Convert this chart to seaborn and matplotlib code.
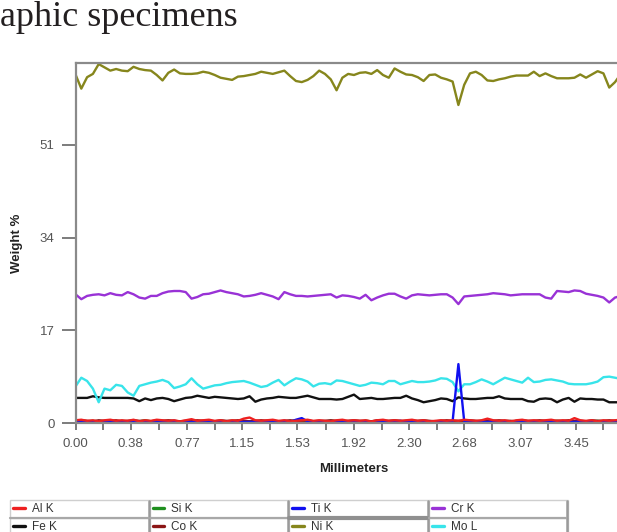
import numpy as np
import pandas as pd
import seaborn as sns
import matplotlib
matplotlib.use("Agg")
import matplotlib.pyplot as plt
from matplotlib.lines import Line2D
from matplotlib.patches import Rectangle

# ---------------- data ----------------
step_mm = 0.04
n_pts = 96
distance_mm = [round(i * step_mm, 2) for i in range(n_pts)]

ni_k = [63.9, 61.3, 63.4, 64.0, 65.8, 65.2, 64.6, 64.9, 64.6, 64.5,
        65.3, 64.9, 64.7, 64.6, 63.8, 62.8, 64.2, 64.8, 64.1, 64.0,
        64.0, 64.1, 64.4, 64.2, 63.8, 63.3, 63.1, 62.9, 63.5, 63.6,
        63.8, 64.0, 64.4, 64.2, 64.0, 64.3, 64.6, 63.6, 62.7, 62.5,
        62.9, 63.6, 64.6, 64.0, 63.0, 61.0, 63.3, 64.0, 63.8, 64.2,
        64.3, 64.0, 64.7, 63.8, 63.3, 65.0, 64.4, 63.9, 63.8, 63.4,
        62.7, 63.8, 63.9, 63.3, 63.0, 62.6, 58.3, 62.0, 64.1, 64.4,
        63.8, 62.8, 62.7, 63.0, 63.2, 63.5, 63.7, 63.7, 63.7, 64.4,
        63.6, 64.1, 63.6, 63.2, 63.2, 63.2, 63.3, 63.9, 63.3, 63.9,
        64.5, 64.1, 61.5, 62.5, 64.0, 64.0]

cr_k = [23.6, 22.7, 23.3, 23.5, 23.6, 23.4, 23.8, 23.5, 23.4, 24.0,
        23.6, 23.0, 22.8, 23.3, 23.3, 23.8, 24.1, 24.2, 24.2, 24.0,
        22.8, 23.1, 23.6, 23.7, 24.0, 24.3, 24.0, 23.8, 23.6, 23.2,
        23.3, 23.5, 23.8, 23.5, 23.2, 22.7, 24.0, 23.6, 23.3, 23.3,
        23.2, 23.3, 23.4, 23.5, 23.6, 23.0, 23.4, 23.3, 23.1, 22.8,
        23.5, 22.5, 23.0, 23.4, 23.7, 23.7, 23.2, 22.8, 23.4, 23.6,
        23.5, 23.4, 23.5, 23.6, 23.6, 23.0, 21.8, 23.2, 23.3, 23.4,
        23.5, 23.6, 23.8, 23.7, 23.6, 23.4, 23.5, 23.6, 23.6, 23.6,
        23.6, 23.0, 22.8, 24.2, 24.1, 24.0, 24.3, 24.2, 23.7, 23.5,
        23.3, 23.0, 22.1, 23.0, 23.3, 23.3]

mo_l = [6.7, 8.3, 7.7, 6.3, 3.8, 6.3, 6.0, 7.0, 6.8, 5.6,
        5.0, 6.8, 7.1, 7.4, 7.6, 7.9, 7.5, 6.4, 6.7, 7.1,
        8.2, 7.1, 6.3, 6.6, 6.9, 7.0, 7.3, 7.5, 7.6, 7.7,
        7.4, 7.0, 6.6, 6.8, 7.4, 7.9, 6.9, 7.6, 8.2, 8.0,
        7.6, 6.7, 7.2, 7.3, 7.1, 7.8, 7.7, 7.4, 7.1, 6.8,
        7.0, 7.4, 7.3, 7.1, 7.7, 7.7, 7.1, 7.4, 7.7, 7.5,
        7.5, 7.6, 7.8, 8.2, 8.1, 7.5, 5.8, 7.1, 7.1, 7.5,
        8.0, 7.6, 7.1, 7.7, 8.3, 8.0, 7.7, 7.4, 8.3, 7.5,
        7.6, 7.9, 8.0, 7.8, 7.6, 7.2, 7.1, 7.1, 7.1, 7.3,
        7.6, 8.4, 8.5, 8.3, 8.1, 8.0]

fe_k = [4.6, 4.6, 4.6, 4.9, 4.7, 4.6, 4.6, 4.6, 4.6, 4.6,
        4.5, 4.0, 4.5, 4.2, 4.5, 4.6, 4.4, 4.0, 4.3, 4.6,
        4.7, 5.0, 4.8, 4.6, 4.8, 4.7, 4.6, 4.5, 4.4, 4.5,
        4.9, 3.9, 4.3, 4.5, 4.6, 4.8, 4.7, 4.6, 4.6, 4.8,
        5.0, 4.7, 4.4, 4.4, 4.4, 4.3, 4.4, 4.8, 5.2, 4.4,
        4.5, 4.6, 4.4, 4.4, 4.5, 4.6, 4.6, 5.0, 4.5, 4.2,
        3.8, 4.0, 4.2, 4.5, 4.4, 4.0, 4.7, 4.5, 4.4, 4.4,
        4.5, 4.6, 4.6, 4.9, 4.5, 4.4, 4.4, 4.4, 4.0, 3.9,
        4.4, 4.5, 4.4, 3.8, 4.3, 4.6, 3.9, 4.5, 4.4, 4.4,
        4.3, 4.3, 3.8, 3.8, 3.8, 3.8]

ti_k = [0.2, 0.2, 0.3, 0.2, 0.2, 0.3, 0.2, 0.2, 0.2, 0.3,
        0.2, 0.2, 0.2, 0.3, 0.2, 0.2, 0.2, 0.4, 0.2, 0.2,
        0.2, 0.2, 0.3, 0.2, 0.2, 0.2, 0.2, 0.3, 0.2, 0.2,
        0.2, 0.2, 0.3, 0.2, 0.2, 0.2, 0.4, 0.2, 0.6, 0.9,
        0.3, 0.2, 0.2, 0.2, 0.3, 0.2, 0.2, 0.2, 0.2, 0.3,
        0.2, 0.2, 0.2, 0.3, 0.2, 0.2, 0.4, 0.2, 0.2, 0.2,
        0.2, 0.3, 0.2, 0.2, 0.2, 0.3, 10.8, 0.3, 0.2, 0.2,
        0.2, 0.2, 0.3, 0.2, 0.2, 0.2, 0.3, 0.2, 0.2, 0.2,
        0.2, 0.2, 0.3, 0.2, 0.2, 0.2, 0.2, 0.3, 0.2, 0.2,
        0.2, 0.2, 0.2, 0.3, 0.2, 0.2]

al_k = [0.5, 0.6, 0.4, 0.5, 0.3, 0.5, 0.6, 0.4, 0.5, 0.4,
        0.6, 0.3, 0.5, 0.4, 0.6, 0.5, 0.4, 0.5, 0.3, 0.5,
        0.7, 0.4, 0.5, 0.6, 0.4, 0.5, 0.3, 0.5, 0.4, 0.8,
        1.0, 0.5, 0.4, 0.5, 0.6, 0.4, 0.5, 0.3, 0.4, 0.5,
        0.6, 0.4, 0.5, 0.4, 0.3, 0.5, 0.6, 0.4, 0.5, 0.4,
        0.5, 0.3, 0.5, 0.6, 0.4, 0.5, 0.4, 0.5, 0.6, 0.4,
        0.5, 0.3, 0.4, 0.5, 0.4, 0.5, 0.4, 0.6, 0.5, 0.4,
        0.5, 0.8, 0.5, 0.4, 0.5, 0.3, 0.5, 0.6, 0.4, 0.5,
        0.4, 0.5, 0.6, 0.4, 0.5, 0.4, 0.9, 0.5, 0.4, 0.5,
        0.3, 0.5, 0.4, 0.5, 0.6, 0.4]

si_k = [0.3, 0.2, 0.3, 0.4, 0.2, 0.3, 0.3, 0.2, 0.4, 0.3,
        0.2, 0.3, 0.5, 0.3, 0.2, 0.3, 0.4, 0.3, 0.2, 0.3,
        0.3, 0.2, 0.4, 0.3, 0.3, 0.2, 0.3, 0.4, 0.3, 0.2,
        0.3, 0.3, 0.2, 0.4, 0.3, 0.2, 0.3, 0.3, 0.4, 0.2,
        0.3, 0.3, 0.2, 0.3, 0.4, 0.3, 0.2, 0.3, 0.3, 0.2,
        0.4, 0.3, 0.2, 0.3, 0.3, 0.2, 0.3, 0.4, 0.3, 0.2,
        0.3, 0.3, 0.2, 0.4, 0.3, 0.2, 0.3, 0.3, 0.2, 0.3,
        0.4, 0.3, 0.2, 0.3, 0.3, 0.2, 0.4, 0.3, 0.2, 0.3,
        0.3, 0.2, 0.3, 0.4, 0.3, 0.2, 0.3, 0.3, 0.2, 0.3,
        0.4, 0.3, 0.2, 0.3, 0.3, 0.2]

co_k = [0.4, 0.5, 0.4, 0.3, 0.5, 0.4, 0.4, 0.5, 0.3, 0.4,
        0.5, 0.4, 0.4, 0.3, 0.5, 0.4, 0.5, 0.4, 0.3, 0.4,
        0.4, 0.5, 0.4, 0.4, 0.3, 0.5, 0.4, 0.4, 0.5, 0.4,
        0.3, 0.4, 0.5, 0.4, 0.4, 0.3, 0.4, 0.5, 0.4, 0.4,
        0.5, 0.3, 0.4, 0.4, 0.5, 0.4, 0.3, 0.4, 0.5, 0.4,
        0.4, 0.3, 0.5, 0.4, 0.4, 0.5, 0.4, 0.3, 0.4, 0.4,
        0.5, 0.4, 0.3, 0.4, 0.5, 0.4, 0.4, 0.4, 0.5, 0.4,
        0.3, 0.4, 0.4, 0.5, 0.4, 0.4, 0.3, 0.5, 0.4, 0.4,
        0.5, 0.4, 0.3, 0.4, 0.4, 0.5, 0.4, 0.4, 0.3, 0.5,
        0.4, 0.4, 0.5, 0.4, 0.4, 0.4]

series_names = ["Al K", "Si K", "Ti K", "Cr K", "Fe K", "Co K", "Ni K", "Mo L"]
series_values = [al_k, si_k, ti_k, cr_k, fe_k, co_k, ni_k, mo_l]
series_colors = ["#ee2020", "#1f8f1f", "#1010f0", "#9932d6",
                 "#111111", "#8b1515", "#86861c", "#38e4ea"]
draw_order = ["Si K", "Co K", "Fe K", "Mo L", "Cr K", "Ni K", "Ti K", "Al K"]

y_ticks = [0, 17, 34, 51]
x_tick_labels = ["0.00", "0.38", "0.77", "1.15", "1.53", "1.92",
                 "2.30", "2.68", "3.07", "3.45"]

title_text = "aphic specimens"
x_label = "Millimeters"
y_label = "Weight %"

# ---------------- figure ----------------
sns.set_style("white")
plt.rcParams["font.family"] = ["Liberation Sans", "DejaVu Sans"]

W, H = 617, 532
fig = plt.figure(figsize=(W / 100, H / 100), dpi=100)

ax_left, ax_right, ax_top, ax_bottom = 75.5, 631.0, 63.0, 423.0
ax = fig.add_axes([ax_left / W, 1 - ax_bottom / H,
                   (ax_right - ax_left) / W, (ax_bottom - ax_top) / H])

frames = []
for name, vals in zip(series_names, series_values):
    frames.append(pd.DataFrame({"mm": distance_mm, "wt": vals, "element": name}))
df = pd.concat(frames, ignore_index=True)
color_map = dict(zip(series_names, series_colors))

for name in draw_order:
    sub = df[df["element"] == name]
    sns.lineplot(data=sub, x="mm", y="wt", color=color_map[name],
                 linewidth=1.7, ax=ax, legend=False, estimator=None, sort=False)

ax.set_xlim(0, 3.83)
ax.set_ylim(0, 66)

spine_col = "#8a8a8a"
for side in ["left", "top", "bottom"]:
    ax.spines[side].set_visible(True)
    ax.spines[side].set_color(spine_col)
    ax.spines[side].set_linewidth(1.6)
ax.spines["right"].set_visible(False)

major_x = [float(t) for t in x_tick_labels]
ax.set_xticks(major_x)
ax.set_xticklabels(x_tick_labels)
minor_x = [(a + b) / 2 for a, b in zip(major_x[:-1], major_x[1:])] + [3.64]
ax.set_xticks(minor_x, minor=True)
ax.set_yticks(y_ticks)
ax.set_yticklabels([str(v) for v in y_ticks])

ax.tick_params(axis="x", which="both", direction="out", length=5, width=1.2,
               color="#666666", pad=6, labelsize=9.5, labelcolor="#555555",
               bottom=True)
ax.tick_params(axis="y", which="major", direction="out", length=10, width=1.2,
               color="#666666", pad=5, labelsize=9.5, labelcolor="#555555",
               left=True)

ax.set_xlabel(x_label, fontsize=9.5, fontweight="bold", color="#222222", labelpad=9)
ax.set_ylabel(y_label, fontsize=9.5, fontweight="bold", color="#222222", labelpad=12)

fig.text(0.0, 1 - 26 / H, title_text, family=["Liberation Serif", "DejaVu Serif"],
         fontsize=26, color="#231f20", ha="left", va="baseline")

# ---------------- legend (4 columns x 2 rows) ----------------
col_x = [10.0, 149.6, 289.2, 428.8]
col_w = 139.6
row_top = [500.0, 517.5]
row_h = 17.5
for j in range(4):
    for r in range(2):
        x0 = col_x[j]
        y0 = row_top[r]
        fig.patches.append(Rectangle((x0 / W, 1 - (y0 + row_h) / H), col_w / W, row_h / H,
                                     transform=fig.transFigure, facecolor="white",
                                     edgecolor="#cfcfcf", linewidth=1.0, zorder=1))
        fig.lines.append(Line2D([(x0 + col_w - 1) / W] * 2,
                                [1 - (y0 + 1) / H, 1 - (y0 + row_h) / H],
                                transform=fig.transFigure, color="#9a9a9a",
                                linewidth=1.8, zorder=2))
    bw = 3.0 if j == 2 else 1.6
    bc = "#8f8f8f" if j == 2 else "#a8a8a8"
    fig.lines.append(Line2D([col_x[j] / W, (col_x[j] + col_w - 2) / W],
                            [1 - (row_top[0] + row_h) / H] * 2,
                            transform=fig.transFigure, color=bc, linewidth=bw, zorder=2))

for j in range(4):
    names = [series_names[j], series_names[j + 4]]
    handles = [Line2D([], [], color=color_map[n], linewidth=2.4) for n in names]
    leg = fig.legend(handles, names, loc="upper left",
                     bbox_to_anchor=((col_x[j] + 3) / W, 1 - 503.0 / H),
                     frameon=False, fontsize=8.5, handlelength=1.0,
                     handletextpad=0.6, labelspacing=0.55, borderpad=0,
                     borderaxespad=0)
    for t in leg.get_texts():
        t.set_color("#333333")
    leg.set_zorder(5)

fig.savefig("out.png", dpi=100)
